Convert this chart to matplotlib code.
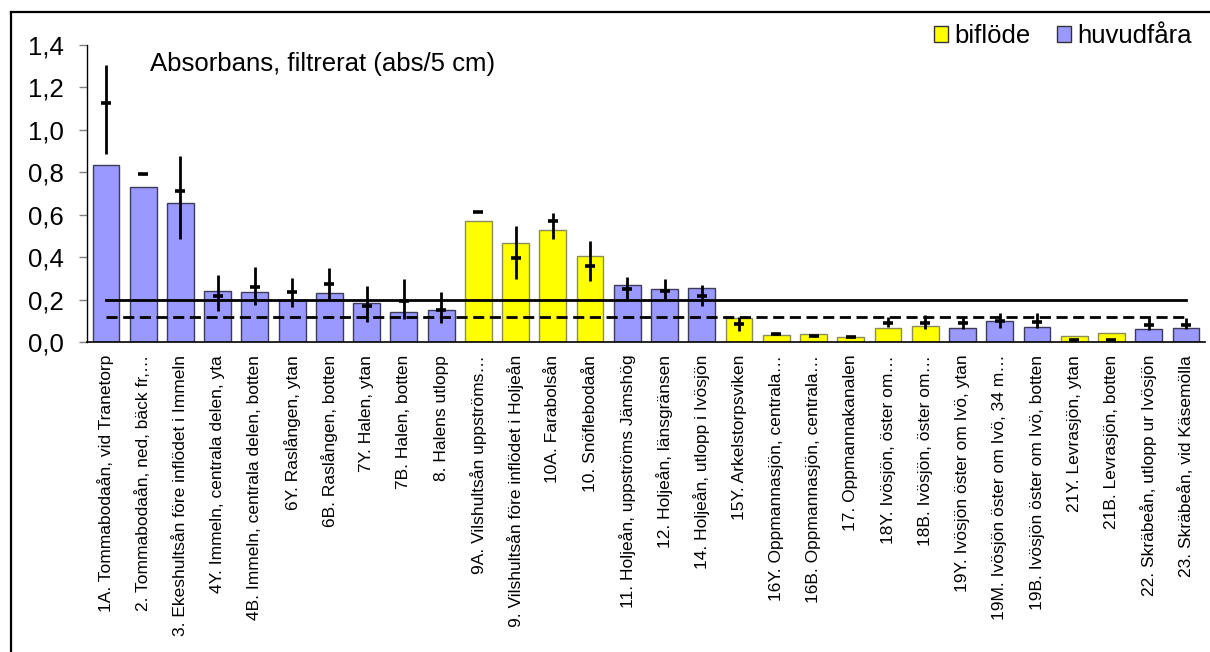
import matplotlib
matplotlib.use("Agg")
import matplotlib.pyplot as plt
import numpy as np
from matplotlib.patches import Patch
from matplotlib.lines import Line2D

plt.rcParams['font.family'] = ['Liberation Sans', 'DejaVu Sans']

# Sampling stations along the watercourse
labels = [
    "1A. Tommabodaån, vid Tranetorp",
    "2. Tommabodaån, ned, bäck fr,…",
    "3. Ekeshultsån före inflödet i Immeln",
    "4Y. Immeln, centrala delen, yta",
    "4B. Immeln, centrala delen, botten",
    "6Y. Raslången, ytan",
    "6B. Raslången, botten",
    "7Y. Halen, ytan",
    "7B. Halen, botten",
    "8. Halens utlopp",
    "9A. Vilshultsån uppströms…",
    "9. Vilshultsån före inflödet i Holjeån",
    "10A. Farabolsån",
    "10. Snöflebodaån",
    "11. Holjeån, uppströms Jämshög",
    "12. Holjeån, länsgränsen",
    "14. Holjeån, utlopp i Ivösjön",
    "15Y. Arkelstorpsviken",
    "16Y. Oppmannasjön, centrala…",
    "16B. Oppmannasjön, centrala…",
    "17. Oppmannakanalen",
    "18Y. Ivösjön, öster om…",
    "18B. Ivösjön, öster om…",
    "19Y. Ivösjön öster om Ivö, ytan",
    "19M. Ivösjön öster om Ivö, 34 m…",
    "19B. Ivösjön öster om Ivö, botten",
    "21Y. Levrasjön, ytan",
    "21B. Levrasjön, botten",
    "22. Skräbeån, utlopp ur Ivösjön",
    "23. Skräbeån, vid Käsemölla",
]

# 'b' = biflöde (tributary), 'h' = huvudfåra (main channel)
kind = ['h', 'h', 'h', 'h', 'h', 'h', 'h', 'h', 'h', 'h',
        'b', 'b', 'b', 'b', 'h', 'h', 'h', 'b', 'b', 'b',
        'b', 'b', 'b', 'h', 'h', 'h', 'b', 'b', 'h', 'h']

# Current value (bars)
current = [0.834, 0.729, 0.655, 0.243, 0.238, 0.199, 0.231, 0.187, 0.141, 0.152,
           0.570, 0.467, 0.528, 0.405, 0.270, 0.253, 0.254, 0.116, 0.036, 0.038,
           0.023, 0.066, 0.077, 0.069, 0.099, 0.072, 0.028, 0.044, 0.061, 0.069]

# Historical mean, min and max
hist_mean = [1.129, 0.792, 0.714, 0.220, 0.259, 0.236, 0.275, 0.171, 0.196, 0.151,
             0.614, 0.397, 0.570, 0.358, 0.251, 0.243, 0.220, 0.085, 0.041, 0.030,
             0.024, 0.089, 0.093, 0.092, 0.102, 0.096, 0.010, 0.012, 0.082, 0.082]
hist_min = [0.887, 0.786, 0.485, 0.146, 0.176, 0.165, 0.199, 0.094, 0.108, 0.092,
            0.614, 0.300, 0.487, 0.289, 0.203, 0.199, 0.171, 0.055, 0.036, 0.027,
            0.021, 0.074, 0.064, 0.061, 0.066, 0.066, 0.008, 0.010, 0.058, 0.061]
hist_max = [1.304, 0.798, 0.879, 0.316, 0.356, 0.304, 0.349, 0.267, 0.298, 0.236,
            0.614, 0.548, 0.608, 0.479, 0.306, 0.297, 0.269, 0.121, 0.046, 0.033,
            0.027, 0.121, 0.129, 0.121, 0.140, 0.137, 0.012, 0.014, 0.113, 0.113]

# Reference levels
level_solid = 0.2
level_dashed = 0.12

yticks = [0.0, 0.2, 0.4, 0.6, 0.8, 1.0, 1.2, 1.4]
ytick_labels = ["0,0", "0,2", "0,4", "0,6", "0,8", "1,0", "1,2", "1,4"]

colors = {'b': '#FFFF00', 'h': '#9999FF'}
edges = {'b': '#8c8c5a', 'h': '#3c3c5a'}

W, H = 1210, 652
fig = plt.figure(figsize=(W / 100, H / 100), dpi=100)
ax = fig.add_axes([87.3 / W, 1 - 342.3 / H, (1204.6 - 87.3) / W, (342.3 - 45) / H])

x = np.arange(len(labels))
ax.bar(x, current, width=0.72,
       color=[colors[k] for k in kind],
       edgecolor=[edges[k] for k in kind], linewidth=1.0, zorder=2)

# Reference lines spanning first to last station
ax.plot([x[0], x[-1]], [level_solid] * 2, color='black', lw=2.0, zorder=3)
ax.plot([x[0], x[-1]], [level_dashed] * 2, color='black', lw=2.0,
        dashes=(4, 2), zorder=3)

# Historical range and mean
mean = np.array(hist_mean)
lo = np.array(hist_min)
hi = np.array(hist_max)
ax.vlines(x, lo, hi, color='black', lw=2.0, zorder=4)
ax.plot(x, mean, linestyle='none', marker='_', markersize=7.5,
        markeredgewidth=2.6, color='black', zorder=5)

ax.set_xlim(-0.5, len(labels) - 0.5)
ax.set_ylim(0, 1.4)
ax.set_yticks(yticks)
ax.set_yticklabels(ytick_labels, fontsize=18.5)
ax.set_xticks(x)
ax.set_xticklabels(labels, rotation=90, fontsize=12.5, va='top', ha='center')
ax.tick_params(axis='x', length=0, pad=9)
ax.tick_params(axis='y', length=5.8, width=1, color='#808080', pad=11)
for s in ['top', 'right']:
    ax.spines[s].set_visible(False)
ax.spines['left'].set_color('black')
ax.spines['bottom'].set_color('black')
ax.spines['left'].set_linewidth(1.0)
ax.spines['bottom'].set_linewidth(1.2)

fig.text(150 / W, 1 - 70.7 / H, "Absorbans, filtrerat (abs/5 cm)",
         fontsize=18.5, ha='left', va='baseline')

handles = [Patch(facecolor=colors['b'], edgecolor='#333333', lw=1.0, label='biflöde'),
           Patch(facecolor=colors['h'], edgecolor='#333333', lw=1.0, label='huvudfåra')]
fig.legend(handles=handles, loc='center right', bbox_to_anchor=(1192 / W, 1 - 36 / H),
           ncol=2, frameon=False, fontsize=18.5, handlelength=0.56, handleheight=0.56,
           handletextpad=0.25, columnspacing=1.0, borderpad=0, borderaxespad=0)

# Chart-area frame
fig.add_artist(Line2D([11 / W, 11 / W], [-0.1, 1 - 11.5 / H], transform=fig.transFigure,
                      color='black', lw=1.6))
fig.add_artist(Line2D([11 / W, 1.1], [1 - 11.5 / H, 1 - 11.5 / H], transform=fig.transFigure,
                      color='black', lw=1.6))

fig.savefig("out.png", dpi=100)
